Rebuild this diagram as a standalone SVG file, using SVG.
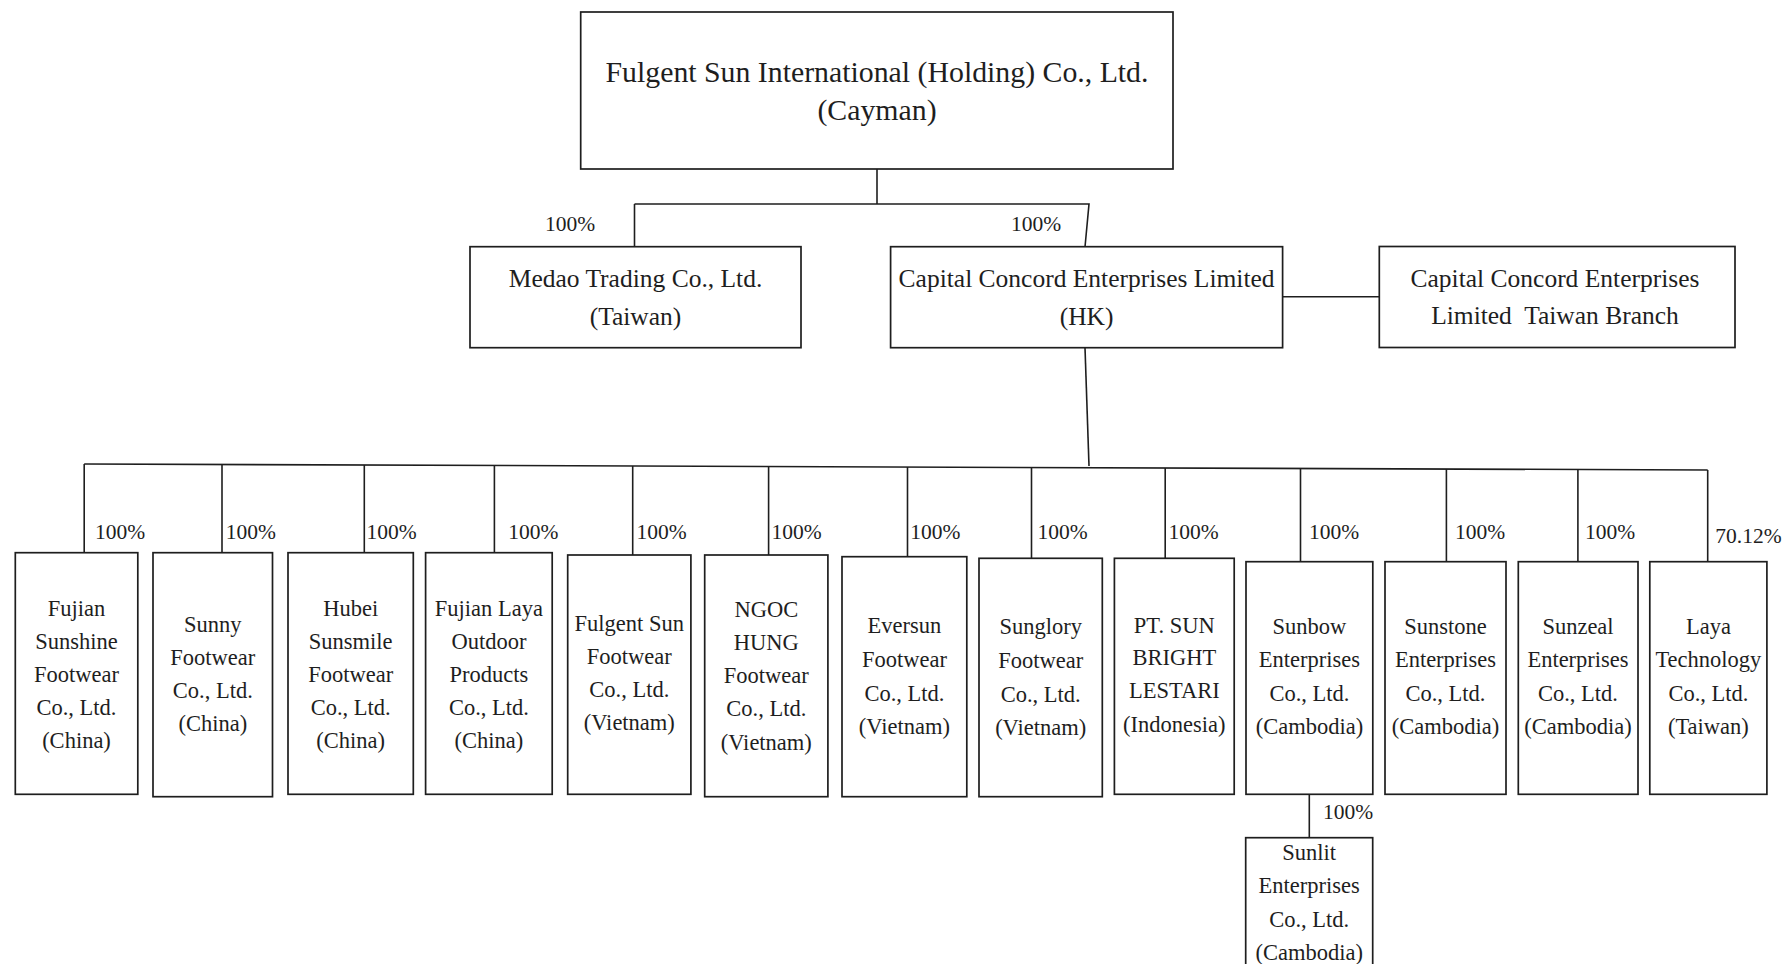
<svg xmlns="http://www.w3.org/2000/svg" width="1783" height="964" viewBox="0 0 1783 964">
<style>
.box{fill:#fff;stroke:#1e1e1e;stroke-width:1.7}
.ln{fill:none;stroke:#1e1e1e;stroke-width:1.6}
text{font-family:"Liberation Serif","Times New Roman",serif;fill:#1e1e1e}
.t{text-anchor:middle}
.top{font-size:29.8px}
.mid{font-size:25.5px}
.sm{font-size:22.5px}
.pct{font-size:21.5px}
</style>
<rect x="0" y="0" width="1783" height="964" fill="#fff"/>
<g id="connectors">
<path class="ln" d="M877,169 V204 M634.5,204 H1089 L1085,247 M634.5,204 V247"/>
<path class="ln" d="M1282.5,296.7 H1379.3"/>
<path class="ln" d="M1085,347.7 L1089,466"/>
<path class="ln" d="M84.2,464 L1707.7,470"/>
<path class="ln" d="M84.2,464 V552.7 M222,464.5 V552.7 M364.3,465 V552.7 M494.4,465.5 V552.7 M632.7,466 V555 M768.6,466.5 V555 M907.5,467 V556.7 M1031.5,467.5 V558.3 M1165.2,468 V558.3 M1300.5,468.5 V561.7 M1446.4,469 V561.7 M1577.9,469.5 V561.7 M1707.7,470 V561.7"/>
<path class="ln" d="M1309.3,794.3 V837.7"/>
<g class="pct">
<text x="545" y="231">100%</text>
<text x="1011" y="231">100%</text>
<text x="94.9" y="539">100%</text>
<text x="225.8" y="539">100%</text>
<text x="366.6" y="539">100%</text>
<text x="508.2" y="539">100%</text>
<text x="636.5" y="539">100%</text>
<text x="771.6" y="539">100%</text>
<text x="910.2" y="539">100%</text>
<text x="1037.6" y="539">100%</text>
<text x="1168.6" y="539">100%</text>
<text x="1309" y="539">100%</text>
<text x="1454.9" y="539">100%</text>
<text x="1585.1" y="539">100%</text>
<text x="1715.3" y="543">70.12%</text>
<text x="1323" y="819">100%</text>
</g>
</g>
<g id="n-fulgent-holding">
<rect class="box" x="580.7" y="12" width="592.3" height="157"/>
<text class="t top" x="877" y="82">Fulgent Sun International (Holding) Co., Ltd.</text>
<text class="t top" x="877" y="120">(Cayman)</text>
</g>
<g id="n-medao">
<rect class="box" x="470" y="246.7" width="331" height="101"/>
<text class="t mid" x="635.5" y="287">Medao Trading Co., Ltd.</text>
<text class="t mid" x="635.5" y="325">(Taiwan)</text>
</g>
<g id="n-capital-hk">
<rect class="box" x="890.6" y="246.7" width="392" height="101"/>
<text class="t mid" x="1086.6" y="287">Capital Concord Enterprises Limited</text>
<text class="t mid" x="1086.6" y="325">(HK)</text>
</g>
<g id="n-capital-tw">
<rect class="box" x="1379.3" y="246.5" width="355.7" height="101"/>
<text class="t mid" x="1555" y="287">Capital Concord Enterprises</text>
<text class="t mid" x="1555" y="324" xml:space="preserve">Limited  Taiwan Branch</text>
</g>
<g id="n-fujian-sunshine">
<rect class="box" x="15.3" y="552.7" width="122.5" height="241.6"/>
<text class="t sm" x="76.5" y="616">Fujian</text>
<text class="t sm" x="76.5" y="649">Sunshine</text>
<text class="t sm" x="76.5" y="682">Footwear</text>
<text class="t sm" x="76.5" y="715">Co., Ltd.</text>
<text class="t sm" x="76.5" y="748">(China)</text>
</g>
<g id="n-sunny">
<rect class="box" x="153" y="552.7" width="119.5" height="244"/>
<text class="t sm" x="212.8" y="632">Sunny</text>
<text class="t sm" x="212.8" y="665">Footwear</text>
<text class="t sm" x="212.8" y="698">Co., Ltd.</text>
<text class="t sm" x="212.8" y="731">(China)</text>
</g>
<g id="n-hubei">
<rect class="box" x="288" y="552.7" width="125.3" height="241.6"/>
<text class="t sm" x="350.7" y="616">Hubei</text>
<text class="t sm" x="350.7" y="649">Sunsmile</text>
<text class="t sm" x="350.7" y="682">Footwear</text>
<text class="t sm" x="350.7" y="715">Co., Ltd.</text>
<text class="t sm" x="350.7" y="748">(China)</text>
</g>
<g id="n-fujian-laya">
<rect class="box" x="425.6" y="552.7" width="126.6" height="241.6"/>
<text class="t sm" x="488.9" y="616">Fujian Laya</text>
<text class="t sm" x="488.9" y="649">Outdoor</text>
<text class="t sm" x="488.9" y="682">Products</text>
<text class="t sm" x="488.9" y="715">Co., Ltd.</text>
<text class="t sm" x="488.9" y="748">(China)</text>
</g>
<g id="n-fulgent-vn">
<rect class="box" x="567.7" y="555" width="123.2" height="239.3"/>
<text class="t sm" x="629.3" y="631">Fulgent Sun</text>
<text class="t sm" x="629.3" y="664">Footwear</text>
<text class="t sm" x="629.3" y="697">Co., Ltd.</text>
<text class="t sm" x="629.3" y="730">(Vietnam)</text>
</g>
<g id="n-ngoc-hung">
<rect class="box" x="704.7" y="555" width="123.2" height="241.7"/>
<text class="t sm" x="766.3" y="617">NGOC</text>
<text class="t sm" x="766.3" y="650">HUNG</text>
<text class="t sm" x="766.3" y="683">Footwear</text>
<text class="t sm" x="766.3" y="716">Co., Ltd.</text>
<text class="t sm" x="766.3" y="750">(Vietnam)</text>
</g>
<g id="n-eversun">
<rect class="box" x="842" y="556.7" width="124.8" height="240"/>
<text class="t sm" x="904.4" y="633">Eversun</text>
<text class="t sm" x="904.4" y="667">Footwear</text>
<text class="t sm" x="904.4" y="701">Co., Ltd.</text>
<text class="t sm" x="904.4" y="734">(Vietnam)</text>
</g>
<g id="n-sunglory">
<rect class="box" x="979" y="558.3" width="123.3" height="238.4"/>
<text class="t sm" x="1040.7" y="634">Sunglory</text>
<text class="t sm" x="1040.7" y="668">Footwear</text>
<text class="t sm" x="1040.7" y="702">Co., Ltd.</text>
<text class="t sm" x="1040.7" y="735">(Vietnam)</text>
</g>
<g id="n-pt-sun">
<rect class="box" x="1114.4" y="558.3" width="119.8" height="236"/>
<text class="t sm" x="1174.3" y="633">PT. SUN</text>
<text class="t sm" x="1174.3" y="665">BRIGHT</text>
<text class="t sm" x="1174.3" y="698">LESTARI</text>
<text class="t sm" x="1174.3" y="732">(Indonesia)</text>
</g>
<g id="n-sunbow">
<rect class="box" x="1246" y="561.7" width="126.8" height="232.6"/>
<text class="t sm" x="1309.4" y="634">Sunbow</text>
<text class="t sm" x="1309.4" y="667">Enterprises</text>
<text class="t sm" x="1309.4" y="701">Co., Ltd.</text>
<text class="t sm" x="1309.4" y="734">(Cambodia)</text>
</g>
<g id="n-sunstone">
<rect class="box" x="1385" y="561.7" width="121" height="232.6"/>
<text class="t sm" x="1445.5" y="634">Sunstone</text>
<text class="t sm" x="1445.5" y="667">Enterprises</text>
<text class="t sm" x="1445.5" y="701">Co., Ltd.</text>
<text class="t sm" x="1445.5" y="734">(Cambodia)</text>
</g>
<g id="n-sunzeal">
<rect class="box" x="1518.3" y="561.7" width="119.7" height="232.6"/>
<text class="t sm" x="1578" y="634">Sunzeal</text>
<text class="t sm" x="1578" y="667">Enterprises</text>
<text class="t sm" x="1578" y="701">Co., Ltd.</text>
<text class="t sm" x="1578" y="734">(Cambodia)</text>
</g>
<g id="n-laya-tech">
<rect class="box" x="1649.8" y="561.7" width="117.1" height="232.6"/>
<text class="t sm" x="1708.4" y="634">Laya</text>
<text class="t sm" x="1708.4" y="667">Technology</text>
<text class="t sm" x="1708.4" y="701">Co., Ltd.</text>
<text class="t sm" x="1708.4" y="734">(Taiwan)</text>
</g>
<g id="n-sunlit">
<rect class="box" x="1245.7" y="837.7" width="127" height="140"/>
<text class="t sm" x="1309.2" y="860">Sunlit</text>
<text class="t sm" x="1309.2" y="893">Enterprises</text>
<text class="t sm" x="1309.2" y="927">Co., Ltd.</text>
<text class="t sm" x="1309.2" y="960">(Cambodia)</text>
</g>
</svg>
